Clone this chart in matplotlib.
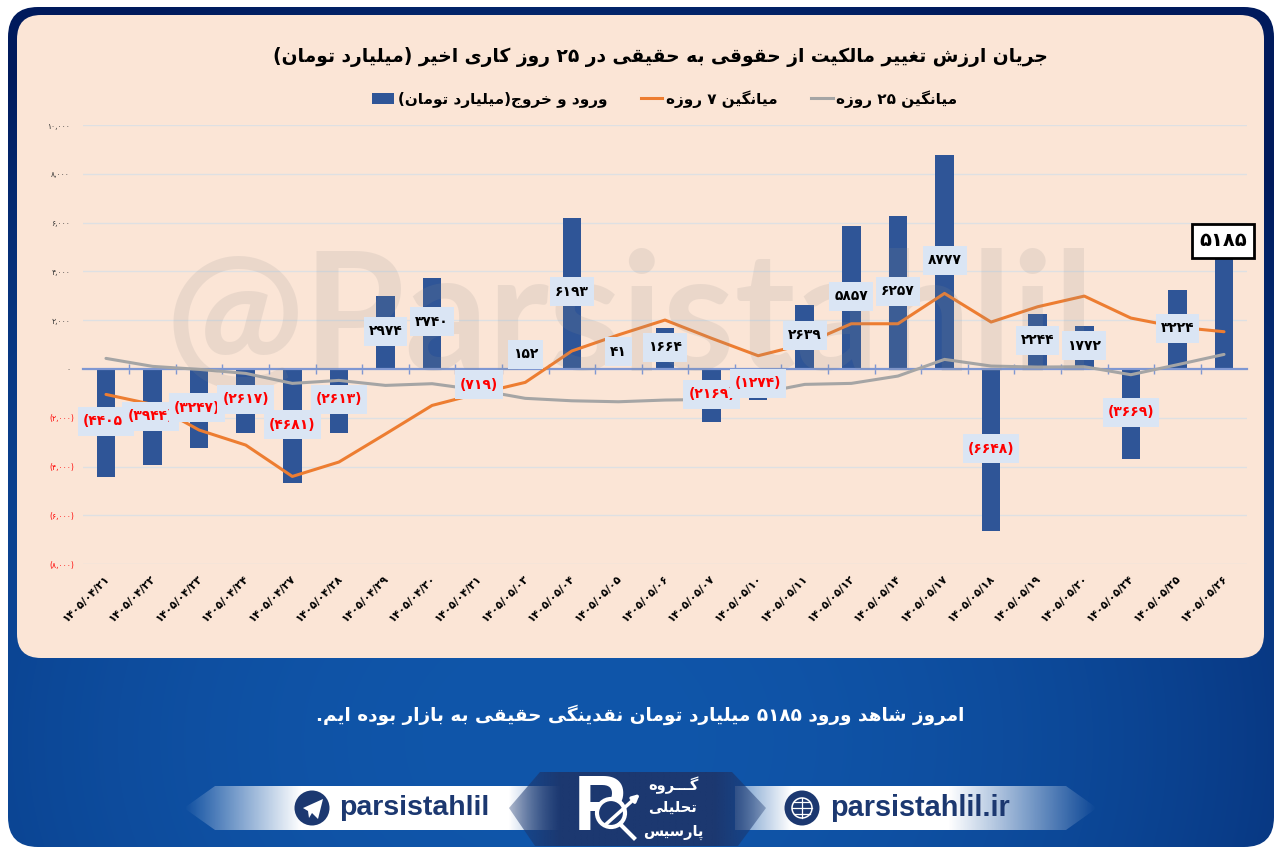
"""Real-investor money flow chart, 25 working days (Parsistahlil style)."""

import re

import matplotlib

matplotlib.use("Agg")
import matplotlib.pyplot as plt
import numpy as np
from matplotlib.lines import Line2D
from matplotlib.patches import Circle, FancyBboxPatch, Patch, Polygon
from matplotlib.path import Path
from matplotlib.transforms import ScaledTranslation

DATES = [
    "1405/04/21", "1405/04/22", "1405/04/23", "1405/04/24", "1405/04/27",
    "1405/04/28", "1405/04/29", "1405/04/30", "1405/04/31", "1405/05/03",
    "1405/05/04", "1405/05/05", "1405/05/06", "1405/05/07", "1405/05/10",
    "1405/05/11", "1405/05/12", "1405/05/14", "1405/05/17", "1405/05/18",
    "1405/05/19", "1405/05/20", "1405/05/24", "1405/05/25", "1405/05/26",
]
FLOW = [
    -4405, -3944, -3247, -2617, -4681, -2613, 2974, 3740, -719, 152, 6193, 41, 1664,
    -2169, -1274, 2639, 5857, 6257, 8777, -6648, 2244, 1772, -3669, 3224, 5185,
]
AVG_7 = [
    -1040, -1450, -2500, -3115, -4400, -3810, -2660, -1490, -1000, -546, 740, 1400, 2008,
    1260, 546, 1025, 1856, 1856, 3100, 1926, 2553, 2990, 2090, 1720, 1530,
]
AVG_25 = [
    437, 110, -14, -178, -587, -465, -670, -600, -860, -1200, -1300, -1340, -1270,
    -1243, -1000, -628, -587, -287, 396, 123, 82, 96, -232, 178, 600,
]
Y_TICKS = [-8000, -6000, -4000, -2000, 0, 2000, 4000, 6000, 8000, 10000]

TITLE = "جریان ارزش تغییر مالکیت از حقوقی به حقیقی در ۲۵ روز کاری اخیر (میلیارد تومان)"
LEGEND_FLOW = "ورود و خروج(میلیارد تومان)"
LEGEND_7 = "میانگین ۷ روزه"
LEGEND_25 = "میانگین ۲۵ روزه"
FOOTER = "امروز شاهد ورود ۵۱۸۵ میلیارد تومان نقدینگی حقیقی به بازار بوده ایم."
GROUP_LINES = ["گـــروه", "تحلیلی", "پارسیس"]

# label nudges in pixels (dx, dy up), everything else sits mid-bar
NUDGE = {1: (-2, 1), 2: (-2, 1), 8: (0, -7), 9: (0, 13), 11: (0, 17), 24: (-1, 65)}

NAVY = "#1C3870"
BAR = "#2F5597"
PANEL = "#FBE5D6"

# matplotlib does no arabic shaping, so map letters to presentation forms
FORMS = {
    "ا": (0xFE8D, 0xFE8E), "د": (0xFEA9, 0xFEAA), "ر": (0xFEAD, 0xFEAE),
    "ز": (0xFEAF, 0xFEB0), "و": (0xFEED, 0xFEEE),
    "ب": (0xFE8F, 0xFE90, 0xFE91, 0xFE92), "پ": (0xFB56, 0xFB57, 0xFB58, 0xFB59),
    "ت": (0xFE95, 0xFE96, 0xFE97, 0xFE98), "ج": (0xFE9D, 0xFE9E, 0xFE9F, 0xFEA0),
    "ح": (0xFEA1, 0xFEA2, 0xFEA3, 0xFEA4), "خ": (0xFEA5, 0xFEA6, 0xFEA7, 0xFEA8),
    "س": (0xFEB1, 0xFEB2, 0xFEB3, 0xFEB4), "ش": (0xFEB5, 0xFEB6, 0xFEB7, 0xFEB8),
    "غ": (0xFECD, 0xFECE, 0xFECF, 0xFED0), "ق": (0xFED5, 0xFED6, 0xFED7, 0xFED8),
    "ک": (0xFB8E, 0xFB8F, 0xFB90, 0xFB91), "گ": (0xFB92, 0xFB93, 0xFB94, 0xFB95),
    "ل": (0xFEDD, 0xFEDE, 0xFEDF, 0xFEE0), "م": (0xFEE1, 0xFEE2, 0xFEE3, 0xFEE4),
    "ن": (0xFEE5, 0xFEE6, 0xFEE7, 0xFEE8), "ه": (0xFEE9, 0xFEEA, 0xFEEB, 0xFEEC),
    "ی": (0xFBFC, 0xFBFD, 0xFBFE, 0xFBFF), "ـ": (0x640, 0x640, 0x640, 0x640),
}


def fa_digits(text):
    return str(text).translate(str.maketrans("0123456789", "۰۱۲۳۴۵۶۷۸۹"))


def rtl(text):
    out = []
    for i, ch in enumerate(text):
        if ch not in FORMS:
            out.append(ch)
            continue
        prev = text[i - 1] if i else ""
        nxt = text[i + 1] if i + 1 < len(text) else ""
        from_prev = len(FORMS.get(prev, ())) == 4 and ch in FORMS
        to_next = len(FORMS[ch]) == 4 and nxt in FORMS
        idx = 3 if from_prev and to_next else 1 if from_prev else 2 if to_next else 0
        out.append(chr(FORMS[ch][idx]))
    flipped = "".join(out)[::-1]
    flipped = re.sub(r"[0-9۰-۹]+", lambda m: m.group()[::-1], flipped)
    return flipped.translate(str.maketrans("()", ")("))


def y_label(value):
    body = fa_digits(f"{abs(value):,}")
    return f"({body})" if value < 0 else body


def tall_box(x0, y0, width, height, mutation_size):
    # excel style label box, more padding above and below than at the sides
    padx, pady = 5, 7.5
    return Path(
        [(x0 - padx, y0 - pady), (x0 + width + padx, y0 - pady), (x0 + width + padx, y0 + height + pady),
         (x0 - padx, y0 + height + pady), (x0 - padx, y0 - pady)],
        closed=True,
    )


def faded_band(bg, x0, x1, y0, y1, alpha_x, alpha_y, colour, outline):
    xs = np.linspace(x0, x1, 300)
    alpha = np.interp(xs, alpha_x, alpha_y)[None, :]
    rgba = np.zeros((1, 300, 4))
    rgba[..., :3] = matplotlib.colors.to_rgb(colour)
    rgba[..., 3] = alpha
    im = bg.imshow(rgba, extent=(x0, x1, y1, y0), aspect="auto", zorder=3, interpolation="bilinear")
    clip = Polygon(outline, closed=True, transform=bg.transData, facecolor="none", edgecolor="none")
    bg.add_patch(clip)
    im.set_clip_path(clip)


W, H = 1280, 858
fig = plt.figure(figsize=(W / 100, H / 100), dpi=100, facecolor="white")

# page furniture, all in pixel coordinates
bg = fig.add_axes([0, 0, 1, 1], zorder=0)
bg.set_xlim(0, W)
bg.set_ylim(H, 0)
bg.axis("off")

yy, xx = np.mgrid[0:H, 0:W]
r = np.clip(np.hypot((xx - 560) / 1000, (yy - 740) / 800), 0, 1) ** 2.2
centre = np.array(matplotlib.colors.to_rgb("#1056AA"))
edge = np.array(matplotlib.colors.to_rgb("#001A5C"))
gradient = centre + (edge - centre) * r[..., None]
frame_im = bg.imshow(gradient, extent=(0, W, H, 0), aspect="auto", zorder=1)
frame = FancyBboxPatch((8, 7), 1266, 840, boxstyle="round,pad=0,rounding_size=30",
                       facecolor="none", edgecolor="none", transform=bg.transData)
bg.add_patch(frame)
frame_im.set_clip_path(frame)
bg.add_patch(FancyBboxPatch((17, 15), 1247, 643, boxstyle="round,pad=0,rounding_size=24",
                            facecolor=PANEL, edgecolor="none", zorder=2))
bg.set_xlim(0, W)
bg.set_ylim(H, 0)

# chart
left, right, top, bottom = 82.7, 1247.3, 125.0, 564.3
ax = fig.add_axes([left / W, 1 - bottom / H, (right - left) / W, (bottom - top) / H], zorder=1)
ax.patch.set_alpha(0)
xpos = np.arange(len(DATES))
ax.set_xlim(-0.5, len(DATES) - 0.5)
ax.set_ylim(-8000, 10000)
ax.bar(xpos, FLOW, width=0.4, color=BAR, zorder=2)
ax.plot(xpos, AVG_25, color="#A5A5A5", lw=2.2, zorder=3, solid_capstyle="round")
ax.plot(xpos, AVG_7, color="#ED7D31", lw=2.2, zorder=3.1, solid_capstyle="round")

ax.set_axisbelow(True)
ax.grid(axis="y", color="#DEE0E3", lw=1)
ax.grid(axis="x", visible=False)
for side in ["left", "right", "bottom"]:
    ax.spines[side].set_visible(False)
ax.spines["top"].set_position(("data", 0))
ax.spines["top"].set_color("#7F97D2")
ax.spines["top"].set_linewidth(1.6)
ax.spines["top"].set_zorder(2.5)

ax.set_xticks(xpos)
ax.set_xticklabels([fa_digits(d) for d in DATES], rotation=45, ha="right", rotation_mode="anchor",
                   fontsize=7.8, fontweight="bold", color="black")
ax.set_xticks(xpos[:-1] + 0.5, minor=True)
ax.tick_params(axis="x", which="major", length=0, pad=6.5, top=False, bottom=True)
ax.tick_params(axis="x", which="minor", top=True, bottom=False, direction="inout",
               length=7, width=1, color="#7F97D2")
shift_left = ScaledTranslation(-2 / 100, 0, fig.dpi_scale_trans)
for label in ax.get_xticklabels():
    label.set_transform(label.get_transform() + shift_left)

ax.set_yticks(Y_TICKS)
ax.set_yticklabels([y_label(v) for v in Y_TICKS], fontsize=5.5, family="DejaVu Sans")
ax.tick_params(axis="y", length=0)
for tick, value in zip(ax.yaxis.get_major_ticks(), Y_TICKS):
    tick.label1.set_color("#FF0000" if value < 0 else "#333333")
    tick.set_pad(6 if value < 0 else 9)

for i, value in enumerate(FLOW):
    dx, dy = NUDGE.get(i, (0, 1.5))
    text = f"({fa_digits(abs(value))})" if value < 0 else fa_digits(value)
    is_today = i == len(FLOW) - 1
    ax.annotate(
        text, xy=(i, value / 2), xytext=(dx * 0.72, dy * 0.72), textcoords="offset points",
        ha="center", va="center", zorder=5, fontweight="bold",
        fontsize=14 if is_today else 10, color="#FF0000" if value < 0 else "black",
        bbox=dict(boxstyle="square,pad=0.38", facecolor="white", edgecolor="black", linewidth=2)
        if is_today else dict(boxstyle=tall_box, facecolor="#DAE5F4", edgecolor="none"),
    )

# watermark sits over the bars but under the value labels
ax.text(630, 370, "@Parsistahlil", transform=bg.transData, ha="center", va="baseline",
        fontsize=118, fontweight="bold", family="Lato",
        color="#8C8C8C", alpha=0.15, zorder=4, clip_on=False)

# headings
fig.text(660 / W, 1 - 57 / H, rtl(TITLE), ha="center", va="center", fontsize=13.4,
         fontweight="bold", color="black")
handles = [
    Patch(facecolor=BAR, label=rtl(LEGEND_FLOW)),
    Line2D([], [], color="#ED7D31", lw=2.2, label=rtl(LEGEND_7)),
    Line2D([], [], color="#A5A5A5", lw=2.2, label=rtl(LEGEND_25)),
]
fig.legend(handles=handles, loc="center", bbox_to_anchor=(665 / W, 1 - 99 / H), ncol=3, frameon=False,
           prop={"size": 11, "weight": "bold"}, handlelength=1.4, handletextpad=0.25,
           columnspacing=2.2, labelcolor="black")

# footer
bg.text(640, 715, rtl(FOOTER), ha="center", va="center", fontsize=13.3, fontweight="bold",
        color="white", zorder=6)
faded_band(bg, 184, 560, 786, 830, [184, 300, 510, 560], [0.0, 1.0, 1.0, 0.4], "white",
           [(184, 808), (215, 786), (560, 786), (560, 830), (215, 830)])
faded_band(bg, 735, 1097, 786, 830, [735, 790, 950, 1097], [0.4, 1.0, 1.0, 0.0], "white",
           [(735, 786), (1066, 786), (1097, 808), (1066, 830), (735, 830)])
faded_band(bg, 509, 766, 772, 846, [509, 560, 715, 766], [0.35, 1.0, 1.0, 0.35], NAVY,
           [(509, 808), (540, 772), (732, 772), (766, 808), (738, 846), (535, 846)])

bg.add_patch(Circle((312, 808), 17.5, facecolor=NAVY, zorder=5))
bg.add_patch(Polygon([(303, 808), (323, 799), (318, 819), (312, 813), (309, 818), (308, 811)],
                     facecolor="white", zorder=6))
bg.add_patch(Circle((802, 808), 17.5, facecolor=NAVY, zorder=5))
bg.add_patch(Circle((802, 808), 10, facecolor="none", edgecolor="white", lw=1.1, zorder=6))
bg.plot([792, 812], [808, 808], color="white", lw=0.9, zorder=6)
bg.plot([794, 810], [802, 802], color="white", lw=0.9, zorder=6)
bg.plot([794, 810], [814, 814], color="white", lw=0.9, zorder=6)
bg.plot([802, 802], [798, 818], color="white", lw=0.9, zorder=6)
bg.text(339, 808, "parsistahlil", ha="left", va="center", fontsize=20.5, fontweight="bold",
        family="Liberation Sans", color=NAVY, zorder=6)
bg.text(830, 808, "parsistahlil.ir", ha="left", va="center", fontsize=20.8, fontweight="bold",
        family="Liberation Sans", color=NAVY, zorder=6)

# logo
bg.text(600, 810, "P", ha="center", va="center", fontsize=56, fontweight="bold",
        family="Liberation Sans", color="white", zorder=6)
bg.add_patch(Circle((611, 813), 14, facecolor=NAVY, edgecolor="white", lw=3, zorder=7))
bg.annotate("", xy=(642, 792), xytext=(604, 826), zorder=8,
            arrowprops=dict(arrowstyle="-|>", color="white", lw=2.5))
bg.plot([620, 634], [824, 838], color="white", lw=3, zorder=8)
for text, y in zip(GROUP_LINES, [785, 807, 832]):
    bg.text(673, y, rtl(text), ha="center", va="center", fontsize=10.5, fontweight="bold",
            color="white", zorder=6)

fig.savefig("out.png", dpi=100, facecolor="white")
